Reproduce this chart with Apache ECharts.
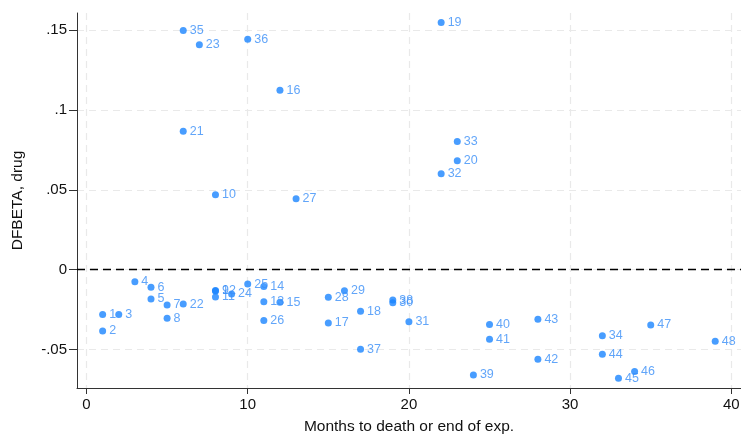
<!DOCTYPE html>
<html>
<head>
<meta charset="utf-8">
<script src="https://cdn.jsdelivr.net/npm/echarts@6/dist/echarts.min.js"></script>
<style>html,body{margin:0;padding:0;background:#fff}#c{width:741px;height:434px}</style>
</head>
<body>
<div id="c"></div>
<script>
const obsIds = [1,2,3,4,5,6,7,8,9,10,11,12,13,14,15,16,17,18,19,20,21,22,23,24,25,26,27,28,29,30,31,32,33,34,35,36,37,38,39,40,41,42,43,44,45,46,47,48];
const months = [1,1,2,3,4,4,5,5,8,8,8,8,11,11,12,12,15,17,22,23,6,6,7,9,10,11,13,15,16,19,20,22,23,32,6,10,17,19,24,25,25,28,28,32,33,34,35,39];
const dfbeta = [-0.0280,-0.0383,-0.0280,-0.0075,-0.0183,-0.0110,-0.0220,-0.0304,-0.0130,0.0469,-0.0170,-0.0133,-0.0200,-0.0105,-0.0204,0.1123,-0.0333,-0.0260,0.1546,0.0681,0.0867,-0.0215,0.1408,-0.0152,-0.0090,-0.0317,0.0444,-0.0173,-0.0131,-0.0206,-0.0325,0.0600,0.0802,-0.0413,0.1496,0.1442,-0.0498,-0.0190,-0.0658,-0.0342,-0.0435,-0.0560,-0.0310,-0.0529,-0.0679,-0.0637,-0.0346,-0.0448];
const xTicks = [0,10,20,30,40];
const yTicks = [-0.05,0,0.05,0.1,0.15];
const yTickLabels = ['-.05','0','.05','.1','.15'];

const FONT = 'Liberation Sans, Arial, Helvetica, sans-serif';
const pts = months.map((m,i)=>[m, dfbeta[i], obsIds[i]]);
const chart = echarts.init(document.getElementById('c'));
const gridLine = {show:true, lineStyle:{color:'#e9e9e9', width:1.2, type:[7,5]}};
chart.setOption({
  animation:false,
  grid:{left:77, right:0, top:13, bottom:46, containLabel:false, outerBoundsMode:'none'},
  xAxis:{
    type:'value', min:-0.59, max:40.6,
    name:'Months to death or end of exp.', nameLocation:'middle', nameGap:31,
    nameTextStyle:{fontFamily:FONT, fontSize:15.5, color:'#111'},
    axisLine:{show:true, onZero:false, lineStyle:{color:'#333', width:1}},
    axisTick:{show:true, length:6, customValues:xTicks, lineStyle:{color:'#333'}},
    axisLabel:{customValues:xTicks, margin:9, fontFamily:FONT, fontSize:15, color:'#111'},
    splitLine:gridLine
  },
  yAxis:{
    type:'value', min:-0.074, max:0.1606,
    name:'DFBETA, drug', nameLocation:'middle', nameGap:51, nameRotate:90,
    nameTextStyle:{fontFamily:FONT, fontSize:15.5, color:'#111'},
    axisLine:{show:true, onZero:false, lineStyle:{color:'#333', width:1}},
    axisTick:{show:true, length:8, customValues:yTicks, lineStyle:{color:'#333'}},
    axisLabel:{customValues:yTicks, margin:10, fontFamily:FONT, fontSize:15, color:'#111',
      formatter:function(v){const k=yTicks.findIndex(t=>Math.abs(t-v)<1e-9);return k>=0?yTickLabels[k]:'';}},
    splitLine:gridLine
  },
  series:[{
    type:'scatter', data:pts, symbolSize:7,
    itemStyle:{color:'#1a85ff'},
    label:{show:true, position:'right', distance:3, fontFamily:FONT, fontSize:12.5, color:'#3a8ef7',
      formatter:function(p){return String(p.value[2]);}},
    markLine:{silent:true, symbol:'none', label:{show:false},
      lineStyle:{color:'#000', type:[8,5], width:1.3},
      data:[{yAxis:0}]}
  }]
});
</script>
</body>
</html>
